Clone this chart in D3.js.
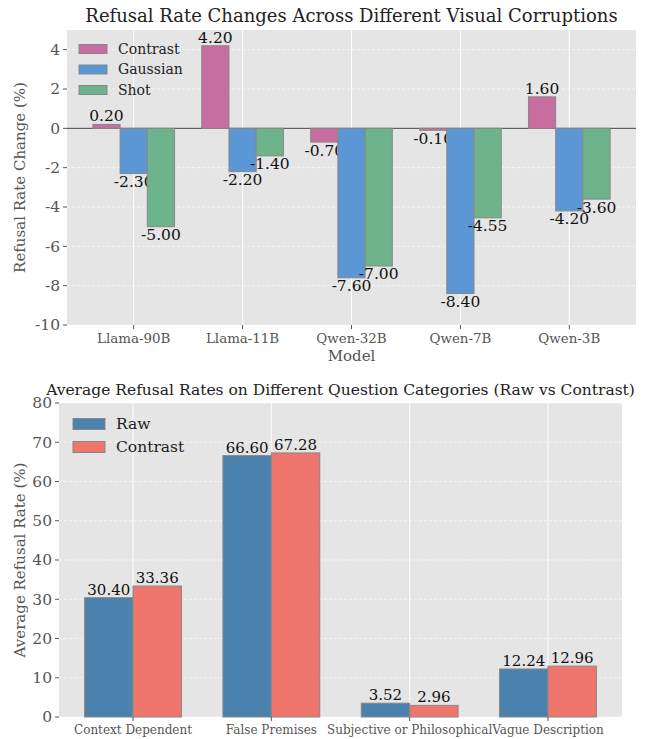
<!DOCTYPE html>
<html>
  <head>
    <meta charset="utf-8">
    <title>refusal rates</title>
    <style>
      body { margin: 0; background: #fff; }
      text { font-family: "DejaVu Serif", serif; }
    </style>
  </head>
  <body>
    <div id="chart"></div>
    <script src="https://d3js.org/d3.v7.min.js"></script>
    <script>
        var W = 647, H = 739;

        // top panel data
        var models = ["Llama-90B", "Llama-11B", "Qwen-32B", "Qwen-7B", "Qwen-3B"];
        var corruptions = ["Contrast", "Gaussian", "Shot"];
        var contrastChange = [0.20, 4.20, -0.70, -0.10, 1.60];
        var gaussianChange = [-2.30, -2.20, -7.60, -8.40, -4.20];
        var shotChange = [-5.00, -1.40, -7.00, -4.55, -3.60];
        var changeTicks = [-10, -8, -6, -4, -2, 0, 2, 4];

        // bottom panel data
        var categories = ["Context Dependent", "False Premises", "Subjective or Philosophical", "Vague Description"];
        var conditions = ["Raw", "Contrast"];
        var rawRate = [30.40, 66.60, 3.52, 12.24];
        var contrastRate = [33.36, 67.28, 2.96, 12.96];
        var rateTicks = [0, 10, 20, 30, 40, 50, 60, 70, 80];

        var svg = d3.select("#chart").append("svg")
        	.attr("width", W)
        	.attr("height", H);

        function panel(opt) {
        	var g = svg.append("g").attr("transform", "translate(" + opt.left + "," + opt.top + ")");
        	var n = opt.cats.length, k = opt.series.length;
        	var span = opt.barW * k;
        	var lo = -span / 2, hi = n - 1 + span / 2, pad = (hi - lo) * 0.05;
        	var x = d3.scaleLinear().domain([lo - pad, hi + pad]).range([0, opt.w]);
        	var y = d3.scaleLinear().domain(opt.ydom).range([opt.h, 0]);

        	g.append("rect").attr("width", opt.w).attr("height", opt.h).attr("fill", "#e5e5e5");

        	// grid: dashed horizontals, solid verticals
        	g.selectAll(".hg").data(opt.ticks).enter().append("line")
        		.attr("x1", 0).attr("x2", opt.w)
        		.attr("y1", function(d) { return y(d); }).attr("y2", function(d) { return y(d); })
        		.attr("stroke", "#fff").attr("stroke-width", 0.8).attr("stroke-dasharray", "3,2").attr("opacity", 0.8);
        	g.selectAll(".vg").data(opt.cats).enter().append("line")
        		.attr("x1", function(d, i) { return x(i); }).attr("x2", function(d, i) { return x(i); })
        		.attr("y1", 0).attr("y2", opt.h)
        		.attr("stroke", "#fff").attr("stroke-width", 1);

        	if (opt.zeroLine) {
        		g.append("line").attr("x1", 0).attr("x2", opt.w)
        			.attr("y1", y(0)).attr("y2", y(0))
        			.attr("stroke", "#444").attr("stroke-width", 1);
        	}

        	opt.series.forEach(function(s, j) {
        		var off = (j - (k - 1) / 2) * opt.barW;
        		var bars = g.append("g");
        		bars.selectAll("rect").data(s.values).enter().append("rect")
        			.attr("x", function(d, i) { return x(i + off - opt.barW / 2); })
        			.attr("width", x(opt.barW) - x(0))
        			.attr("y", function(d) { return y(Math.max(0, d)); })
        			.attr("height", function(d) { return Math.abs(y(d) - y(0)); })
        			.attr("fill", s.color)
        			.attr("stroke", "#888").attr("stroke-width", 1);
        		bars.selectAll("text").data(s.values).enter().append("text")
        			.attr("x", function(d, i) { return x(i + off); })
        			.attr("y", function(d) { return y(d) + (d >= 0 ? -3 : 1); })
        			.attr("dy", function(d) { return d >= 0 ? "0" : "0.8em"; })
        			.attr("text-anchor", "middle")
        			.style("font-size", opt.valSize + "px")
        			.attr("fill", "#111")
        			.text(function(d) { return d.toFixed(2); });
        	});

        	// y axis
        	g.selectAll(".yt").data(opt.ticks).enter().append("line")
        		.attr("x1", -4).attr("x2", 0)
        		.attr("y1", function(d) { return y(d); }).attr("y2", function(d) { return y(d); })
        		.attr("stroke", "#555");
        	g.selectAll(".yl").data(opt.ticks).enter().append("text")
        		.attr("x", -7).attr("y", function(d) { return y(d); }).attr("dy", "0.35em")
        		.attr("text-anchor", "end").attr("fill", "#555")
        		.style("font-size", opt.yTickSize + "px")
        		.text(function(d) { return String(d); });

        	// x axis
        	g.selectAll(".xt").data(opt.cats).enter().append("line")
        		.attr("x1", function(d, i) { return x(i); }).attr("x2", function(d, i) { return x(i); })
        		.attr("y1", opt.h).attr("y2", opt.h + 4)
        		.attr("stroke", "#555");
        	g.selectAll(".xl").data(opt.cats).enter().append("text")
        		.attr("x", function(d, i) { return x(i); }).attr("y", opt.h + 7).attr("dy", "0.8em")
        		.attr("text-anchor", "middle").attr("fill", "#555")
        		.style("font-size", opt.xTickSize + "px")
        		.text(function(d) { return d; });

        	if (opt.xLabel) {
        		g.append("text").attr("x", opt.w / 2).attr("y", opt.h + 36)
        			.attr("text-anchor", "middle").attr("fill", "#555")
        			.style("font-size", "15px").text(opt.xLabel);
        	}
        	g.append("text")
        		.attr("transform", "translate(" + (-opt.left + 25) + "," + (opt.h / 2) + ") rotate(-90)")
        		.attr("text-anchor", "middle").attr("fill", "#555")
        		.style("font-size", "15px").text(opt.yLabel);

        	g.append("text").attr("x", opt.w / 2 + opt.titleDx).attr("y", -8)
        		.attr("text-anchor", "middle").attr("fill", "#222")
        		.style("font-size", opt.titleSize + "px").text(opt.title);

        	// legend
        	var lg = g.append("g").attr("transform", "translate(" + opt.legX + "," + opt.legY + ")");
        	opt.series.forEach(function(s, j) {
        		lg.append("rect").attr("x", 0).attr("y", j * opt.legStep - opt.patchH / 2)
        			.attr("width", opt.patchW).attr("height", opt.patchH)
        			.attr("fill", s.color).attr("stroke", "#888");
        		lg.append("text").attr("x", opt.patchW + 11).attr("y", j * opt.legStep).attr("dy", "0.35em")
        			.attr("fill", "#222").style("font-size", opt.legSize + "px").text(s.name);
        	});
        }

        var topColors = ["#c86da0", "#5b97d4", "#6db38b"];
        panel({
        	left: 67, top: 30, w: 569, h: 295,
        	cats: models, barW: 0.25, ydom: [-10, 5], ticks: changeTicks, zeroLine: true,
        	series: [contrastChange, gaussianChange, shotChange].map(function(v, i) {
        		return { name: corruptions[i], values: v, color: topColors[i] };
        	}),
        	valSize: 15.5, yTickSize: 15.5, xTickSize: 13.4, titleSize: 18, titleDx: 0, legSize: 14,
        	legX: 12, legY: 19, legStep: 20.5, patchW: 28, patchH: 9,
        	xLabel: "Model", yLabel: "Refusal Rate Change (%)",
        	title: "Refusal Rate Changes Across Different Visual Corruptions"
        });

        var botColors = ["#4a82ad", "#ee766d"];
        panel({
        	left: 59, top: 403, w: 563, h: 314,
        	cats: categories, barW: 0.35, ydom: [0, 80], ticks: rateTicks, zeroLine: false,
        	series: [rawRate, contrastRate].map(function(v, i) {
        		return { name: conditions[i], values: v, color: botColors[i] };
        	}),
        	valSize: 15, yTickSize: 15.5, xTickSize: 12, titleSize: 15.5, titleDx: 0, legSize: 15.5,
        	legX: 14, legY: 21, legStep: 23, patchW: 32, patchH: 11,
        	yLabel: "Average Refusal Rate (%)",
        	title: "Average Refusal Rates on Different Question Categories (Raw vs Contrast)"
        });
    </script>
  </body>
</html>
